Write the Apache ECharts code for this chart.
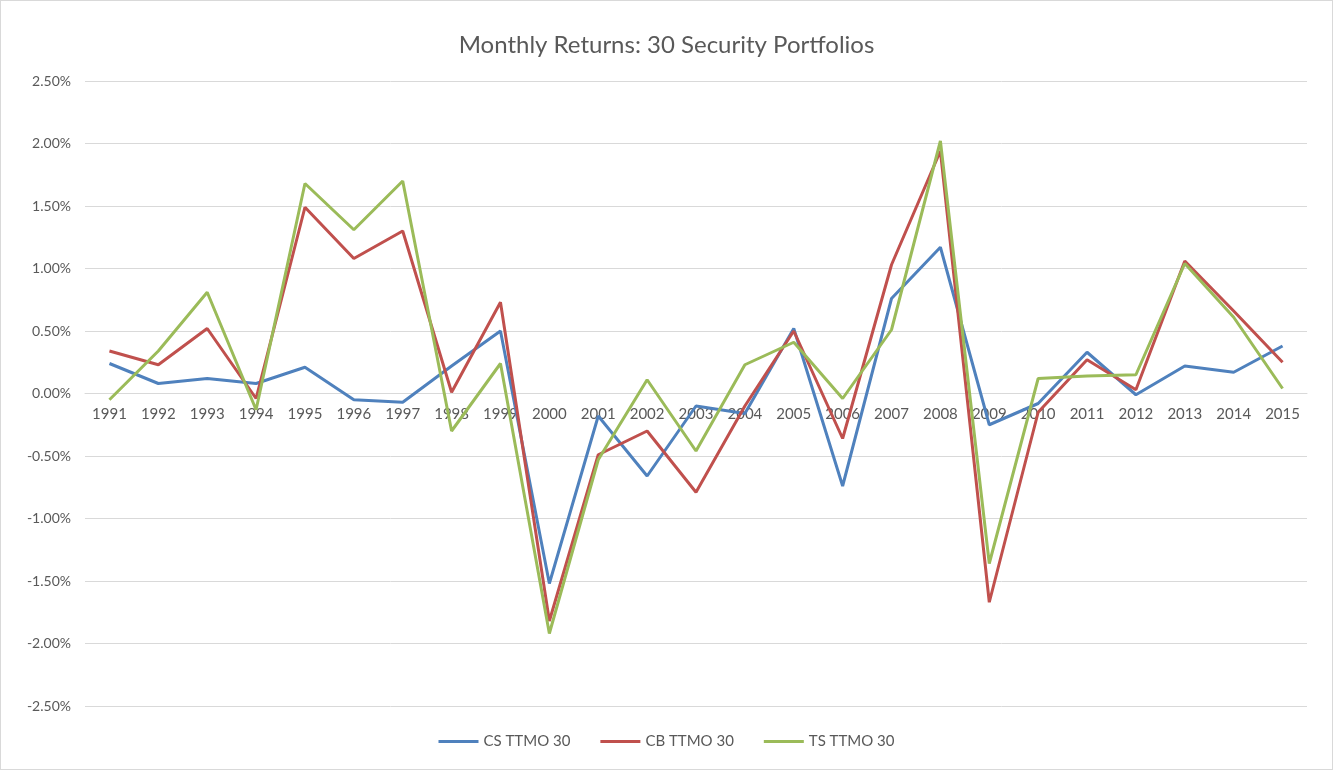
<!DOCTYPE html>
<html>
<head>
<meta charset="utf-8">
<title>Monthly Returns: 30 Security Portfolios</title>
<script src="https://cdn.jsdelivr.net/npm/echarts@6/dist/echarts.min.js"></script>
<style>
  html, body { margin: 0; padding: 0; background: #fff; }
  #chart { width: 1333px; height: 770px; box-sizing: border-box; border: 1px solid #d9d9d9; }
</style>
</head>
<body>
<div id="chart"></div>
<script>
// years on the x axis
var years = ['1991', '1992', '1993', '1994', '1995', '1996', '1997', '1998', '1999', '2000',
  '2001', '2002', '2003', '2004', '2005', '2006', '2007', '2008', '2009', '2010',
  '2011', '2012', '2013', '2014', '2015']

// monthly returns, in percent
var csTtmo30 = [0.24, 0.08, 0.12, 0.08, 0.21, -0.05, -0.07, 0.22, 0.50, -1.52,
  -0.18, -0.66, -0.10, -0.16, 0.52, -0.74, 0.76, 1.17, -0.25, -0.08,
  0.33, -0.01, 0.22, 0.17, 0.38]
var cbTtmo30 = [0.34, 0.23, 0.52, -0.04, 1.49, 1.08, 1.30, 0.01, 0.73, -1.82,
  -0.49, -0.30, -0.79, -0.10, 0.50, -0.36, 1.03, 1.94, -1.67, -0.15,
  0.27, 0.03, 1.06, 0.66, 0.25]
var tsTtmo30 = [-0.05, 0.34, 0.81, -0.13, 1.68, 1.31, 1.70, -0.30, 0.24, -1.92,
  -0.53, 0.11, -0.46, 0.23, 0.41, -0.04, 0.51, 2.02, -1.36, 0.12,
  0.14, 0.15, 1.04, 0.61, 0.04]

var font = 'Lato, "Liberation Sans", sans-serif'
var textColor = '#595959'
var gridHeight = 625

var chart = echarts.init(document.getElementById('chart'))

chart.setOption({
  animation: false,
  color: ['#4F81BD', '#C0504D', '#9BBB59'],
  title: {
    text: 'Monthly Returns: 30 Security Portfolios',
    left: 'center',
    top: 27,
    textStyle: { fontFamily: font, fontSize: 24, fontWeight: 'normal', color: textColor }
  },
  legend: {
    bottom: 15,
    left: 'center',
    itemWidth: 40,
    itemHeight: 3,
    itemGap: 30,
    icon: 'rect',
    textStyle: { fontFamily: font, fontSize: 15, color: textColor },
    data: ['CS TTMO 30', 'CB TTMO 30', 'TS TTMO 30']
  },
  grid: {
    left: 84,
    right: 25,
    top: 80,
    height: gridHeight
  },
  xAxis: {
    type: 'category',
    data: years,
    boundaryGap: true,
    // axis sits on the 0% line (middle of the -2.5..2.5 range)
    offset: -gridHeight / 2,
    axisLine: { onZero: false, lineStyle: { color: '#d9d9d9', width: 1 } },
    axisTick: { show: false },
    axisLabel: {
      interval: 0,
      margin: 13,
      fontFamily: font,
      fontSize: 15,
      color: textColor
    }
  },
  yAxis: {
    type: 'value',
    min: -2.5,
    max: 2.5,
    interval: 0.5,
    axisLine: { show: false },
    axisTick: { show: false },
    splitLine: { lineStyle: { color: '#d9d9d9', width: 1 } },
    axisLabel: {
      margin: 14,
      fontFamily: font,
      fontSize: 14,
      color: textColor,
      formatter: function(v) {
        return v.toFixed(2) + '%'
      }
    }
  },
  series: [
    {
      name: 'CS TTMO 30',
      type: 'line',
      showSymbol: false,
      lineStyle: { width: 3 },
      data: csTtmo30
    },
    {
      name: 'CB TTMO 30',
      type: 'line',
      showSymbol: false,
      lineStyle: { width: 3 },
      data: cbTtmo30
    },
    {
      name: 'TS TTMO 30',
      type: 'line',
      showSymbol: false,
      lineStyle: { width: 3 },
      data: tsTtmo30
    }
  ]
})
</script>
</body>
</html>
